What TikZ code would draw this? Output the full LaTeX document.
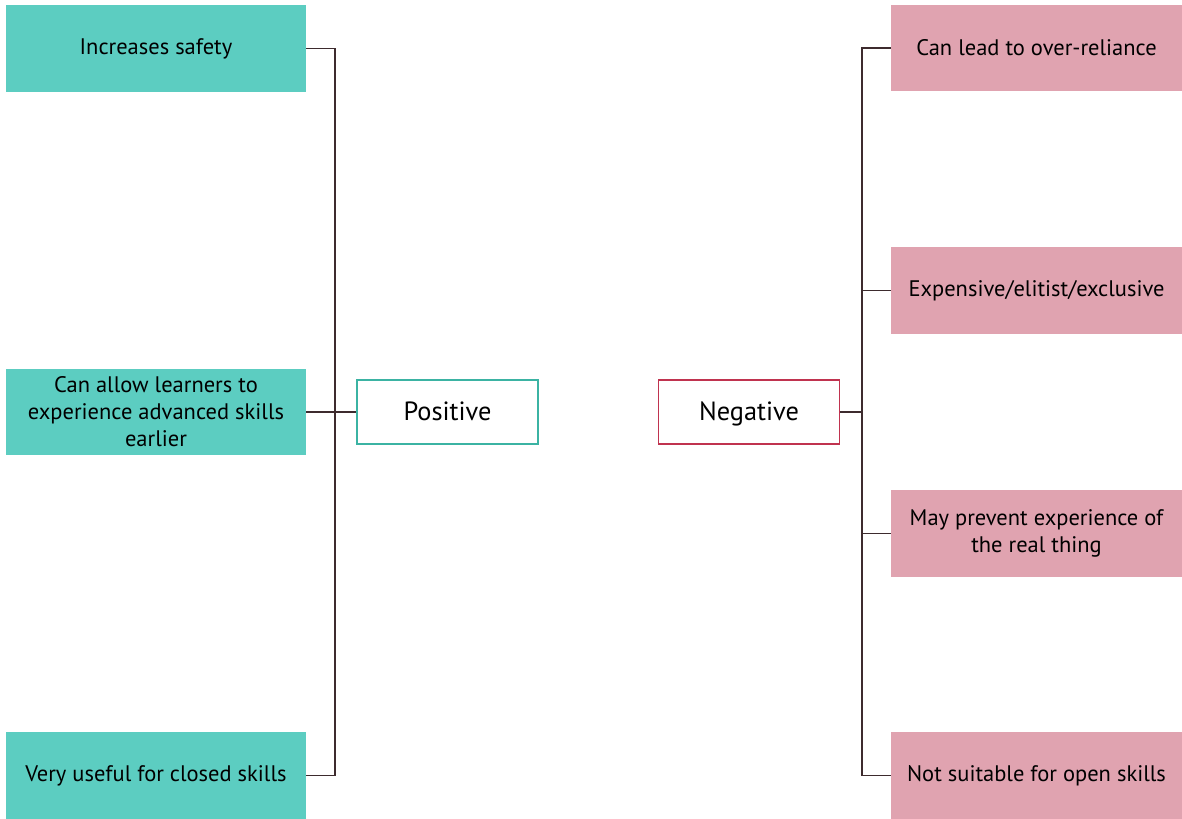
\documentclass[tikz,border=0pt]{standalone}
\usepackage{fontspec}
\setmainfont{PT Sans}
\usetikzlibrary{positioning}
\definecolor{tealfill}{HTML}{5CCDC1}
\definecolor{tealline}{HTML}{3BB3A3}
\definecolor{pinkfill}{HTML}{E0A3B0}
\definecolor{redline}{HTML}{C0334F}
\definecolor{wirecol}{HTML}{3D2B2E}
\tikzset{
  posbox/.style={fill=tealfill, minimum width=6cm, minimum height=1.74cm, align=center, inner sep=0pt},
  negbox/.style={fill=pinkfill, minimum width=5.82cm, minimum height=1.74cm, align=center, inner sep=0pt},
  headbox/.style={draw, line width=1pt, fill=white, minimum width=3.62cm, minimum height=1.28cm, text height=10pt, text depth=0pt},
  wire/.style={draw=wirecol, line width=1pt}
}
\begin{document}
\begin{tikzpicture}[x=0.02cm, y=-0.02cm, every node/.style={font=\fontsize{12.8}{15.4}\selectfont}]
			\useasboundingbox (0,0) rectangle (1182,818);

			% Draw the positive side
			\node[posbox] (safety) at (156, 48.5) {Increases safety};
			\node[posbox] (advanced) at (156, 412) {Can allow learners to\\experience advanced skills\\earlier};
			\node[posbox] (closed) at (156, 775.5) {Very useful for closed skills};
			\node[headbox, draw=tealline] (positive) at (447.5, 412) {\fontsize{15}{18}\selectfont Positive};

			% Draw the negative side
			\node[negbox] (reliance) at (1036.5, 48) {Can lead to over-reliance};
			\node[negbox] (expensive) at (1036.5, 290.5) {Expensive/elitist/exclusive};
			\node[negbox] (realthing) at (1036.5, 533.5) {May prevent experience of\\the real thing};
			\node[negbox] (openskills) at (1036.5, 775.5) {Not suitable for open skills};
			\node[headbox, draw=redline] (negative) at (749, 412) {\fontsize{15}{18}\selectfont Negative};

			% Draw the brackets
			\draw[wire] (safety.east) -- ++(29,0) |- (closed.east);
			\draw[wire] (advanced.east) -- (positive.west);

			\draw[wire] (reliance.west) -- ++(-29,0) |- (openskills.west);
			\draw[wire] (expensive.west) -- ++(-29,0);
			\draw[wire] (realthing.west) -- ++(-29,0);
			\draw[wire] (negative.east) -- ++(22,0);

		\end{tikzpicture}
\end{document}
